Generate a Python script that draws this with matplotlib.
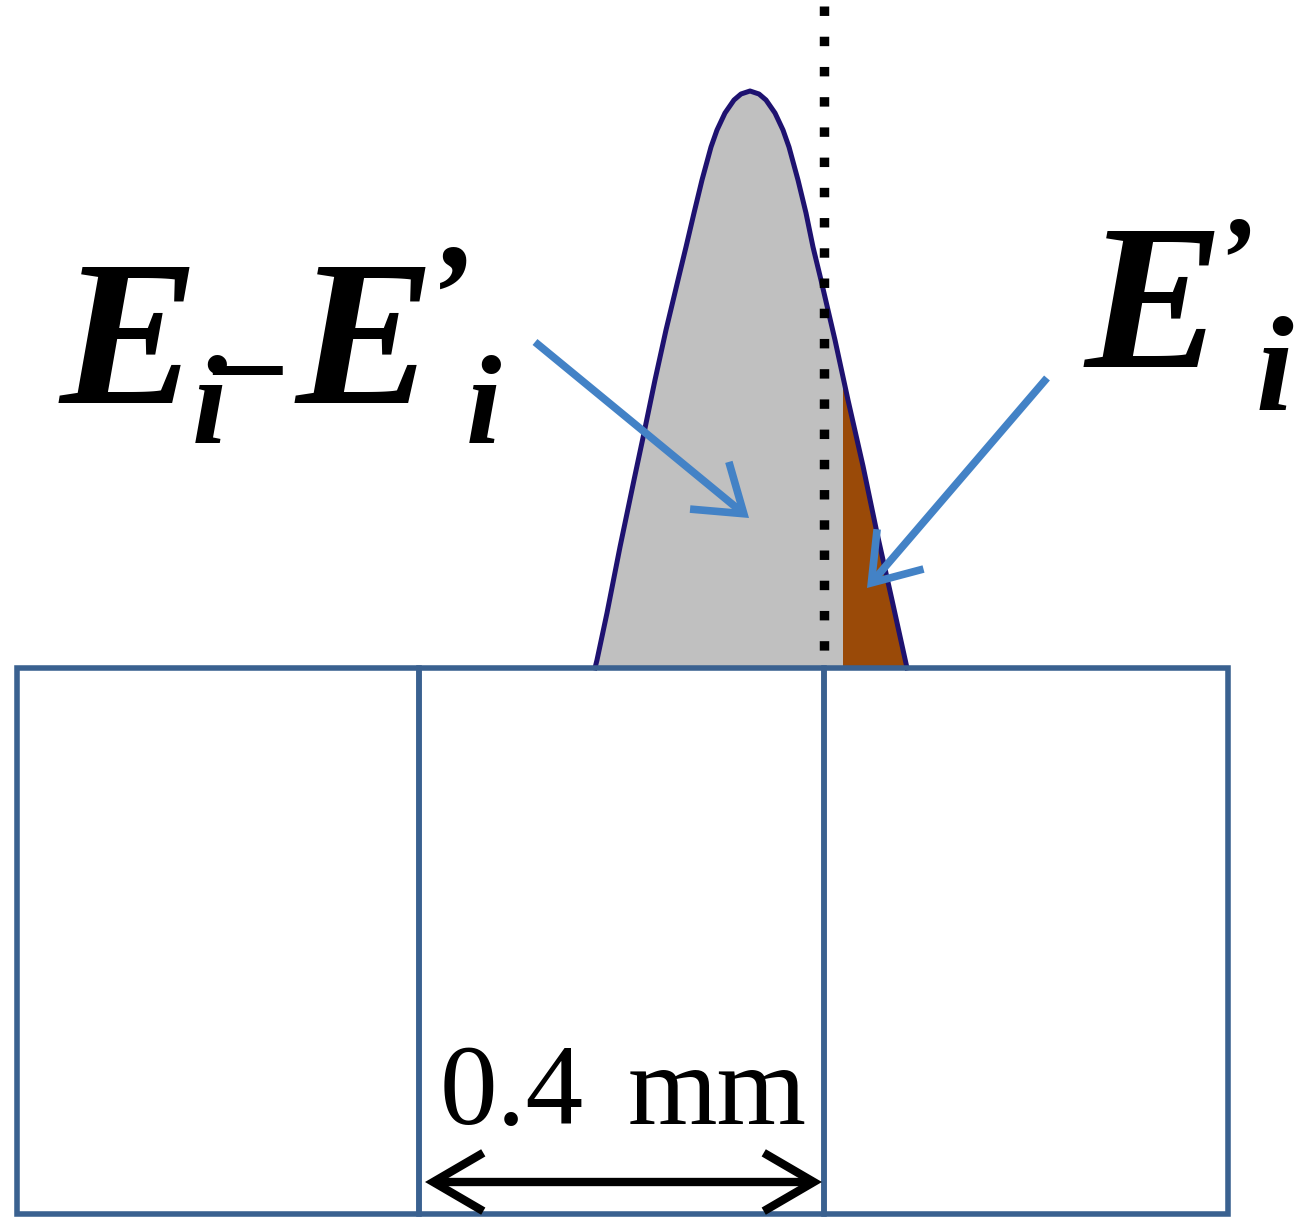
import numpy as np
import matplotlib
matplotlib.use("Agg")
import matplotlib.pyplot as plt
from matplotlib.patches import Rectangle, FancyArrowPatch, ArrowStyle

# ---------------- data (diagram coordinates, y grows downward) ----------------
box_edges = [17, 419, 824, 1228]
box_top = 668
box_bottom = 1214

# outline of the energy peak, left flank (top -> base) and right flank (top -> base)
left_x = [750, 741, 734, 725, 717, 711, 702, 694, 686, 678, 666, 655, 644, 634, 620, 607, 597, 595]
left_y = [91, 94, 100, 113, 130, 147, 180, 213, 247, 280, 330, 380, 433, 480, 547, 613, 660, 668]
right_x = [750, 759, 766, 775, 783, 789, 798, 806, 813, 821, 835, 848, 863, 877, 892, 907]
right_y = [91, 94, 100, 113, 130, 147, 180, 213, 247, 280, 340, 400, 466, 533, 600, 668]

split_x = 843          # left edge of the E'_i (brown) portion
dotted_x = 824         # cell boundary (dotted line)
dotted_top = 6

# arrows: (tail_x, tail_y, tip_x, tip_y)
arrow_left = (535, 342, 749, 518)
arrow_right = (1047, 378, 867, 588)
dim_arrow = (425, 822, 1182)   # x start, x end, y

# ---------------- figure ----------------
W, H = 1308, 1220
fig = plt.figure(figsize=(W / 100, H / 100), dpi=100)
ax = fig.add_axes([0, 0, 1, 1])
ax.set_xlim(0, W)
ax.set_ylim(H, 0)
ax.axis("off")

# peak fill (gray)
px = np.array(left_x[::-1] + right_x[1:])
py = np.array(left_y[::-1] + right_y[1:])
ax.fill(px, py, color="#c0c0c0", lw=0, zorder=1)

# brown part right of split_x
ry = np.array(right_y, dtype=float)
rx = np.array(right_x, dtype=float)
mask = rx >= split_x
i = int(np.argmax(rx >= split_x))
y_cross = ry[i - 1] + (split_x - rx[i - 1]) * (ry[i] - ry[i - 1]) / (rx[i] - rx[i - 1])
bx = [split_x] + list(rx[mask]) + [split_x]
by = [y_cross] + list(ry[mask]) + [box_top]
ax.fill(bx, by, color="#9a4a08", lw=0, zorder=2)

# outline
ax.plot(px, py, color="#1e1270", lw=3.6, zorder=3, solid_joinstyle="round")

# dotted boundary line
ax.plot([dotted_x, dotted_x], [dotted_top, box_top], color="black", lw=6.8,
        linestyle=(0, (1, 2.2)), dash_capstyle="butt", zorder=4)

# boxes
for x0, x1 in zip(box_edges[:-1], box_edges[1:]):
    ax.add_patch(Rectangle((x0, box_top), x1 - x0, box_bottom - box_top,
                           fill=False, edgecolor="#3a6190", lw=4.0, zorder=5))

# blue arrows
blue = "#4382c6"
for (x0, y0, x1, y1) in (arrow_left, arrow_right):
    ax.add_patch(FancyArrowPatch((x0, y0), (x1, y1),
                                 arrowstyle=ArrowStyle("->", head_length=32, head_width=22),
                                 mutation_scale=1, color=blue, lw=5.5,
                                 shrinkA=0, shrinkB=0, zorder=6,
                                 joinstyle="miter", capstyle="butt"))

# dimension arrow
ax.add_patch(FancyArrowPatch((dim_arrow[0], dim_arrow[2]), (dim_arrow[1], dim_arrow[2]),
                             arrowstyle=ArrowStyle("<->", head_length=36, head_width=21),
                             mutation_scale=1, color="black", lw=6.0,
                             shrinkA=0, shrinkB=0, zorder=6,
                             joinstyle="miter", capstyle="butt"))

# texts
bi = dict(family="Liberation Serif", weight="bold", style="italic",
          ha="left", va="baseline", zorder=7)
ax.text(60, 403, "E", fontsize=150, **bi)
ax.text(192, 443, "i", fontsize=92, **bi)
ax.text(214, 402, "\u2013", fontsize=98, **bi)
ax.text(296, 403, "E", fontsize=150, **bi)
ax.text(425, 340, "\u2019", fontsize=100, **bi)
ax.text(466, 443, "i", fontsize=92, **bi)

ax.text(1085, 367, "E", fontsize=150, **bi)
ax.text(1214, 297, "\u2019", fontsize=85, **bi)
ax.text(1256, 410, "i", fontsize=98, **bi)

rg = dict(family="Liberation Serif", ha="left", va="baseline", zorder=7)
ax.text(440, 1124, "0.4", fontsize=83, **rg)
ax.text(628, 1124, "mm", fontsize=83, **rg)

fig.savefig("out.png", dpi=100)
